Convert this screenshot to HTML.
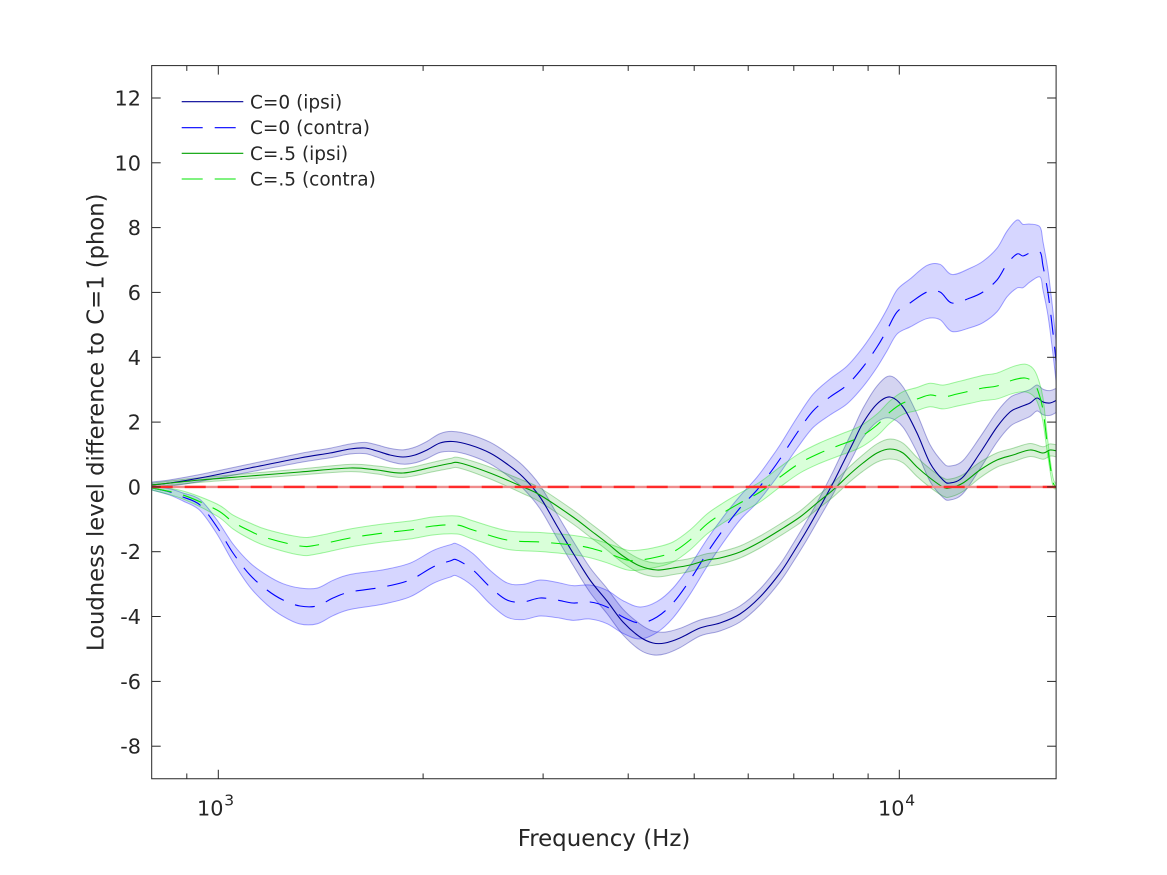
<!DOCTYPE html>
<html>
<head>
<meta charset="utf-8">
<style>
  html,body{margin:0;padding:0;background:#fff;}
  svg{display:block;}
  text{font-family:"DejaVu Sans","Liberation Sans",sans-serif;fill:#262626;}
</style>
</head>
<body>
<svg id="chart" width="1167" height="875" viewBox="0 0 1167 875" xmlns="http://www.w3.org/2000/svg">
  <rect x="0" y="0" width="1167" height="875" fill="#ffffff"/>
  <defs>
    <clipPath id="clip"><rect x="151.7" y="65.6" width="904.4" height="713.15"/></clipPath>
  </defs>
  <g id="plot" clip-path="url(#clip)"></g>

  <!-- axes box -->
  <rect x="151.7" y="65.6" width="904.4" height="713.15" fill="none" stroke="#262626" stroke-width="1"/>

  <g id="ticks" stroke="#262626" stroke-width="1"></g>

  <!-- y tick labels -->
  <g font-size="20.8" text-anchor="end">
    <text x="141" y="105.5">12</text>
    <text x="141" y="170.3">10</text>
    <text x="141" y="235.1">8</text>
    <text x="141" y="299.9">6</text>
    <text x="141" y="364.8">4</text>
    <text x="141" y="429.6">2</text>
    <text x="141" y="494.4">0</text>
    <text x="141" y="559.2">-2</text>
    <text x="141" y="624.0">-4</text>
    <text x="141" y="688.9">-6</text>
    <text x="141" y="753.7">-8</text>
  </g>

  <!-- x tick labels -->
  <text x="197" y="815.7" font-size="20.8">10</text>
  <text x="224.2" y="805.7" font-size="15.5">3</text>
  <text x="878" y="815.7" font-size="20.8">10</text>
  <text x="905.2" y="805.7" font-size="15.5">4</text>

  <!-- axis labels -->
  <text x="604" y="846" font-size="22.9" text-anchor="middle">Frequency (Hz)</text>
  <text transform="translate(103.5,422.3) rotate(-90)" font-size="22.7" text-anchor="middle">Loudness level difference to C=1 (phon)</text>

  <!-- legend -->
  <line x1="181.7" y1="101.7" x2="243.3" y2="101.7" stroke="#000096" stroke-width="1.1"/>
  <line x1="181.7" y1="127.7" x2="243.3" y2="127.7" stroke="#0000ff" stroke-width="1.1" stroke-dasharray="21 12"/>
  <line x1="181.7" y1="153.3" x2="243.3" y2="153.3" stroke="#00a000" stroke-width="1.1"/>
  <line x1="181.7" y1="179" x2="243.3" y2="179" stroke="#00e600" stroke-width="1.1" stroke-dasharray="21 12"/>
  <g font-size="18.5">
    <text x="250" y="108.3">C=0 (ipsi)</text>
    <text x="250" y="134">C=0 (contra)</text>
    <text x="250" y="160">C=.5 (ipsi)</text>
    <text x="250" y="185.7">C=.5 (contra)</text>
  </g>
</svg>

<script>
(function(){
  var NS="http://www.w3.org/2000/svg";
  var plot=document.getElementById("plot");
  var ticks=document.getElementById("ticks");

  function el(tag,attrs,parent){
    var e=document.createElementNS(NS,tag);
    for(var k in attrs){e.setAttribute(k,attrs[k]);}
    parent.appendChild(e);return e;
  }

  var L=151.7,R=1056.1,T=65.6,B=778.75;
  var yt=[98.0,162.8,227.6,292.4,357.3,422.1,486.9,551.7,616.5,681.4,746.2];
  yt.forEach(function(y){
    el("line",{x1:L,y1:y,x2:L+9,y2:y},ticks);
    el("line",{x1:R,y1:y,x2:R-9,y2:y},ticks);
  });
  [218.3,899.3].forEach(function(x){
    el("line",{x1:x,y1:B,x2:x,y2:B-9},ticks);
    el("line",{x1:x,y1:T,x2:x,y2:T+9},ticks);
  });
  [186.8,423.1,543.1,628.2,694.2,748.2,793.8,833.3,868.1].forEach(function(x){
    el("line",{x1:x,y1:B,x2:x,y2:B-5.3},ticks);
    el("line",{x1:x,y1:T,x2:x,y2:T+5.3},ticks);
  });

  function interp(ws,x){
    if(x<=ws[0][0])return ws[0][1];
    for(var i=0;i<ws.length-1;i++){
      if(x>=ws[i][0]&&x<=ws[i+1][0]){
        var t=(x-ws[i][0])/(ws[i+1][0]-ws[i][0]);
        return ws[i][1]+t*(ws[i+1][1]-ws[i][1]);
      }
    }
    return ws[ws.length-1][1];
  }
  function f(n){return Math.round(n*100)/100;}
  function cr(pts,start){
    var d=start+f(pts[0][0])+","+f(pts[0][1]);
    for(var i=0;i<pts.length-1;i++){
      var p0=pts[i-1]||pts[i],p1=pts[i],p2=pts[i+1],p3=pts[i+2]||p2;
      var c1=[p1[0]+(p2[0]-p0[0])/6,p1[1]+(p2[1]-p0[1])/6];
      var c2=[p2[0]-(p3[0]-p1[0])/6,p2[1]-(p3[1]-p1[1])/6];
      d+=" C"+f(c1[0])+","+f(c1[1])+" "+f(c2[0])+","+f(c2[1])+" "+f(p2[0])+","+f(p2[1]);
    }
    return d;
  }
  function band(pts,ws){
    var up=pts.map(function(p){return [p[0],p[1]-interp(ws,p[0])];});
    var lo=pts.map(function(p){return [p[0],p[1]+interp(ws,p[0])];}).reverse();
    return cr(up,"M")+" "+cr(lo,"L")+" Z";
  }

  var BI=[[152,485],[170,483],[200,478],[250,468],[300,458],[330,453],[350,449],[365,448],[377,451],[390,455],[403,457],[415,455],[427,450],[440,443],[453,441.5],[470,445],[490,453],[507,464],[523,477],[540,497],[557,526],[573,553],[590,580],[607,601],[623,622],[640,637],[653,643],[665,643],[680,638],[700,628],[720,623],[740,614],[760,597],[780,573],[793,553],[807,530],[820,507],[833,483],[843,463],[853,443],[863,423],[877,404],[890,397],[903,407],[917,433],[930,463],[943,480],[950,483],[963,477],[980,453],[997,427],[1010,412],[1020,407],[1030,403],[1037,398],[1043,402],[1050,403],[1057,400]];
  var BIw=[[152,3],[250,4],[350,5],[400,7],[450,10],[500,11],[560,12],[640,13],[700,8],[760,8],[820,10],[860,14],[890,21],[920,19],[950,17],[1000,15],[1057,12]];

  var BC=[[152,488],[170,492],[183,497],[200,505],[217,527],[233,553],[250,575],[267,590],[283,600],[300,606],[317,606],[333,598],[350,592],[383,587],[410,580],[433,567],[450,561],[457,560],[473,570],[490,587],[507,600],[523,602],[540,598],[557,600],[573,603],[590,602],[607,607],[623,617],[640,623],[657,617],[673,603],[690,580],[707,553],[723,530],[740,508],[757,490],[770,473],[780,459],[797,433],[813,411],[830,397],[847,385],[863,367],[877,347],[887,330],[897,312],[910,303],[927,292],[940,292],[952,303],[970,298],[983,292],[997,280],[1007,264],[1017,254],[1023,256],[1030,253],[1040,252],[1043,266],[1048,293],[1053,333],[1057,370]];
  var BCw=[[152,2],[183,4],[217,7],[233,9],[260,14],[300,18],[400,17],[460,16],[540,18],[640,16],[700,14],[740,12],[780,14],[830,18],[890,21],[930,27],[960,29],[1000,32],[1017,34],[1040,25],[1057,20]];

  var GI=[[152,485],[200,480],[250,476],[300,472],[350,468],[377,470],[403,473],[433,467],[450,463.5],[460,463],[490,473],[523,487],[540,495],[573,517],[590,530],[607,543],[623,556],[640,566],[657,570],[673,568],[690,565],[707,560],[720,558],[740,552],[760,542],[780,530],[800,517],[817,503],[833,490],[850,474],[863,463],[877,453],[890,449],[903,453],[917,467],[930,478],[943,487],[950,488],[963,483],[980,470],[997,460],[1013,455],[1030,450],[1043,453],[1050,450],[1057,451]];
  var GIw=[[152,2],[300,3],[450,5],[540,7],[640,7],[740,6],[800,6],[860,8],[890,10],[950,9],[1000,7],[1057,6]];

  var GC=[[152,488],[183,495],[217,510],[233,522],[250,531],[267,538],[300,546],[317,545],[350,538],[383,533],[410,530],[433,526],[457,525],[473,530],[507,540],[540,542],[573,545],[590,548],[607,553],[627,560],[640,560],[657,557],[673,552],[690,540],[707,524],[723,513],[740,503],[760,492],[780,477],[800,463],[820,453],[840,445],[860,437],[877,425],[890,412],[903,403],[917,399],[930,395],[943,397],[957,394],[970,391],[983,388],[997,386],[1013,380],[1025,378],[1033,382],[1038,391],[1043,410],[1048,450],[1053,482],[1057,486]];
  var GCw=[[152,2],[183,4],[217,6],[250,8],[300,9],[450,9],[640,10],[800,10],[880,11],[950,12],[1000,13],[1030,14],[1043,12],[1050,6],[1057,2]];

  // fills
  el("path",{d:band(BI,BIw),fill:"rgba(0,0,170,0.17)",stroke:"rgba(0,0,160,0.33)","stroke-width":1},plot);
  el("path",{d:band(BC,BCw),fill:"rgba(0,0,255,0.16)",stroke:"rgba(0,0,255,0.35)","stroke-width":1},plot);
  el("path",{d:band(GI,GIw),fill:"rgba(0,160,0,0.15)",stroke:"rgba(0,150,0,0.30)","stroke-width":1},plot);
  el("path",{d:band(GC,GCw),fill:"rgba(0,255,0,0.15)",stroke:"rgba(0,220,0,0.35)","stroke-width":1},plot);

  // lines
  el("path",{d:cr(BI,"M"),fill:"none",stroke:"#000096","stroke-width":1.1},plot);
  el("path",{d:cr(BC,"M"),fill:"none",stroke:"#0000ff","stroke-width":1.1,"stroke-dasharray":"20 12"},plot);
  el("path",{d:cr(GI,"M"),fill:"none",stroke:"#00a000","stroke-width":1.1},plot);
  el("path",{d:cr(GC,"M"),fill:"none",stroke:"#00e600","stroke-width":1.1,"stroke-dasharray":"20 12"},plot);

  // zero reference line
  el("line",{x1:151.7,y1:486.9,x2:1056.1,y2:486.9,stroke:"#f08c8c","stroke-width":2.4},plot);
  el("line",{x1:151.7,y1:486.9,x2:1056.1,y2:486.9,stroke:"#ff2a2a","stroke-width":2.4,"stroke-dasharray":"21 12"},plot);
})();
</script>
</body>
</html>
